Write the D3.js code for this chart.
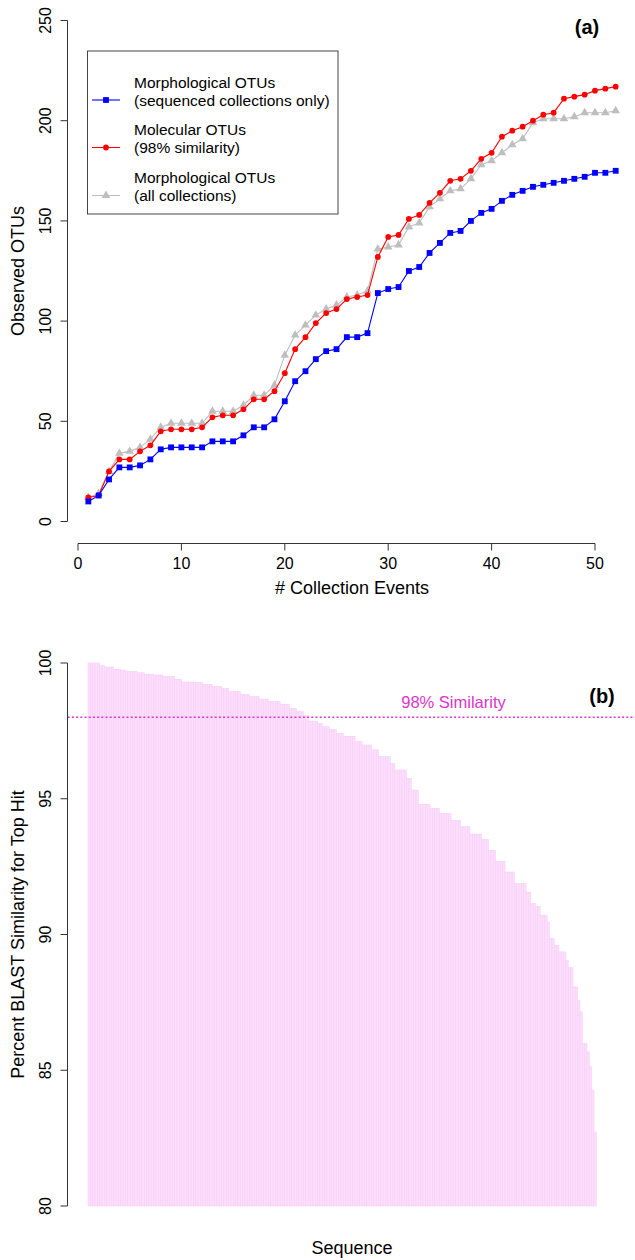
<!DOCTYPE html>
<head>
  <meta charset="utf-8">
  <script src="https://d3js.org/d3.v7.min.js"></script>
  <style>
    body { margin:0; background:white; }
    text { font-family: 'Liberation Sans', Arial, sans-serif; fill: #000; }
    .tick-label { font-size: 16px; }
    .axis-title { font-size: 18px; }
    .legend-text { font-size: 15.5px; }
    .panel-tag { font-size: 20px; font-weight: bold; }
  </style>
</head>
<body>
<script>
// ---- panel (a): accumulation of OTUs over collection events ----
const collectionEvents = [1,2,3,4,5,6,7,8,9,10,11,12,13,14,15,16,17,18,19,20,21,22,23,24,25,26,
  27,28,29,30,31,32,33,34,35,36,37,38,39,40,41,42,43,44,45,46,47,48,49,50,51,52];
const morphSeqOtus = [10,13,21,27,27,28,31,36,37,37, 37,37,40,40,40,43,47,47,51,60,
  70,75,81,85,86,92,92,94,114,116, 117,125,127,134,139,144,145,150,154,156,
  160,163,165,167,168,169,170,171,172,174, 174,175];
const molecularOtus = [12,13,25,31,31,35,38,45,46,46, 46,47,52,53,53,56,61,61,65,74,
  86,92,99,104,106,111,112,113,132,142, 143,151,153,159,164,170,171,175,181,184,
  192,195,197,200,203,204,211,212,213,215, 216,217];
const morphAllOtus = [12,14,25,34,35,37,41,47,49,49, 49,49,55,55,55,58,63,63,68,83,
  93,98,103,106,108,112,113,115,136,137, 138,147,149,157,161,165,166,171,178,180,
  184,188,191,199,201,201,201,202,204,204, 204,205];
const xTicksA = [0,10,20,30,40,50];
const yTicksA = [0,50,100,150,200,250];

// ---- panel (b): sorted BLAST similarity of each sequence ----
const blastSimilarity = [
  100,100,100,100,100, 99.9,99.9, 99.85,99.85,99.85,99.85, 99.77,99.77,99.77, 99.74,99.74,
  99.69,99.69,99.69,99.69,99.69, 99.64,99.64,99.64, 99.59,99.59,99.59,99.59,
  99.56,99.56,99.56,99.56, 99.5,99.5,99.5,99.5,99.5, 99.4,99.4,99.4,
  99.3,99.3,99.3,99.3,99.3, 99.28,99.28,99.28,99.28, 99.22,99.22,99.22,99.22,
  99.13,99.13,99.13,99.13, 99.07,99.07,99.07, 98.95,98.95,98.95,98.95,98.95,
  98.85,98.85,98.85,98.85, 98.76,98.76,98.76,98.76, 98.67,98.67,98.67,98.67,
  98.58,98.58,98.58,98.58,98.58, 98.48,98.48,98.48,98.48, 98.33,98.33,98.33,
  98.21,98.21,98.21, 98.06,98.06, 97.86,97.86,97.86,97.86, 97.77,97.77,
  97.65,97.65,97.65, 97.55,97.55,97.55, 97.4,97.4,97.4, 97.3,97.3,97.3,97.3,97.3,
  97.1,97.1,97.1, 96.98,96.98,96.98,96.98, 96.8,96.8,96.8, 96.55,96.55,96.55,96.55,96.55,
  96.3,96.3, 96.06,96.06,96.06,96.06,96.06, 95.75,95.75, 95.32,95.32,95.32,
  94.8,94.8,94.8,94.8,94.8, 94.65,94.65,94.65,94.65, 94.46,94.46,94.46,94.46,94.46,
  94.2,94.2,94.2,94.2, 93.97,93.97,93.97,93.97, 93.7,93.7,93.7,93.7,93.7,
  93.5,93.5,93.5, 93.1,93.1,93.1, 92.7,92.7,92.7,92.7, 92.3,92.3,92.3,92.3,
  91.87,91.87,91.87,91.87,91.87, 91.56,91.56, 91.14,91.14, 91.04,91.04,
  90.7,90.7,90.7, 90.46, 89.85,89.85, 89.6,89.6, 89.36,89.36,89.36, 89.05,
  88.78,88.78, 88.07,88.07, 87.58, 87.15, 85.98,85.98, 85.68, 85.13, 84.27, 82.73
];
const yTicksB = [80,85,90,95,100];
const similarityCutoff = 98;

const W = 635, H = 1260;
const svg = d3.select('body').append('svg')
  .attr('width', W).attr('height', H)
  .style('background', 'white');

const axisColor = '#333';

// ================= panel (a) =================
const xA = d3.scaleLinear().domain([0, 50]).range([78, 595]);
const yA = d3.scaleLinear().domain([0, 250]).range([521.5, 20.5]);
const axisXY = 543.5, axisYX = 67.5, tickLen = 7;

const gA = svg.append('g');

// y axis
gA.append('line').attr('x1', axisYX).attr('x2', axisYX)
  .attr('y1', yA(0)).attr('y2', yA(250))
  .attr('stroke', axisColor);
gA.selectAll('.ytick').data(yTicksA).enter().append('line')
  .attr('x1', axisYX - tickLen).attr('x2', axisYX)
  .attr('y1', d => yA(d)).attr('y2', d => yA(d))
  .attr('stroke', axisColor);
gA.selectAll('.ylab').data(yTicksA).enter().append('text')
  .classed('tick-label', true)
  .attr('transform', d => `translate(45, ${yA(d)}) rotate(-90)`)
  .attr('text-anchor', 'middle')
  .attr('dominant-baseline', 'central')
  .text(d => d);

// x axis
gA.append('line').attr('x1', xA(0)).attr('x2', xA(50))
  .attr('y1', axisXY).attr('y2', axisXY)
  .attr('stroke', axisColor);
gA.selectAll('.xtick').data(xTicksA).enter().append('line')
  .attr('x1', d => xA(d)).attr('x2', d => xA(d))
  .attr('y1', axisXY).attr('y2', axisXY + tickLen)
  .attr('stroke', axisColor);
gA.selectAll('.xlab').data(xTicksA).enter().append('text')
  .classed('tick-label', true)
  .attr('x', d => xA(d)).attr('y', 569)
  .attr('text-anchor', 'middle')
  .text(d => d);

gA.append('text').classed('axis-title', true)
  .attr('x', 352).attr('y', 594).attr('text-anchor', 'middle')
  .text('# Collection Events');
gA.append('text').classed('axis-title', true)
  .attr('transform', `translate(18, 271) rotate(-90)`)
  .attr('text-anchor', 'middle').attr('dominant-baseline', 'central')
  .text('Observed OTUs');

gA.append('text').classed('panel-tag', true)
  .attr('x', 587).attr('y', 34).attr('text-anchor', 'middle')
  .text('(a)');

// series: grey drawn first, blue last
const series = [
  { name: 'all', values: morphAllOtus, color: '#bebebe', shape: d3.symbolTriangle, size: 32 },
  { name: 'mol', values: molecularOtus, color: '#ff0000', shape: d3.symbolCircle, size: 26 },
  { name: 'seq', values: morphSeqOtus, color: '#0000ff', shape: d3.symbolSquare, size: 34 }
];

const line = d3.line().x(d => xA(d[0])).y(d => yA(d[1]));

series.forEach(s => {
  const pts = collectionEvents.map((e, i) => [e, s.values[i]]);
  gA.append('path').datum(pts)
    .attr('d', line).attr('fill', 'none')
    .attr('stroke', s.color).attr('stroke-width', 1.1);
  gA.append('g').selectAll('path').data(pts).enter().append('path')
    .attr('d', d3.symbol().type(s.shape).size(s.size))
    .attr('transform', d => `translate(${xA(d[0])}, ${yA(d[1])})`)
    .attr('fill', s.color);
});

// legend
const legend = gA.append('g');
legend.append('rect')
  .attr('x', 87.5).attr('y', 51).attr('width', 250.5).attr('height', 163)
  .attr('fill', 'white').attr('stroke', '#444').attr('stroke-width', 1);

const legendItems = [
  { lines: ['Morphological OTUs', '(sequenced collections only)'], color: '#0000ff', shape: d3.symbolSquare, size: 34, y: 82 },
  { lines: ['Molecular OTUs', '(98% similarity)'], color: '#ff0000', shape: d3.symbolCircle, size: 26, y: 129.5 },
  { lines: ['Morphological OTUs', '(all collections)'], color: '#bebebe', shape: d3.symbolTriangle, size: 32, y: 177.5 }
];
legendItems.forEach(item => {
  const symY = item.y + 18;
  legend.append('line').attr('x1', 92).attr('x2', 120)
    .attr('y1', symY).attr('y2', symY)
    .attr('stroke', item.color).attr('stroke-width', 1.1);
  legend.append('path')
    .attr('d', d3.symbol().type(item.shape).size(item.size))
    .attr('transform', `translate(106, ${symY})`)
    .attr('fill', item.color);
  item.lines.forEach((t, j) => {
    legend.append('text').classed('legend-text', true)
      .attr('x', 134).attr('y', item.y + j * 18)
      .attr('dominant-baseline', 'central')
      .text(t);
  });
});

// ================= panel (b) =================
const yB = d3.scaleLinear().domain([80, 100]).range([1206, 663]);
const xB = d3.scaleBand()
  .domain(blastSimilarity.map((d, i) => i))
  .range([88, 596])
  .paddingInner(0.2 / 1.2)
  .paddingOuter(0);

const gB = svg.append('g');

gB.append('g').selectAll('rect').data(blastSimilarity).enter().append('rect')
  .attr('x', (d, i) => xB(i))
  .attr('width', xB.bandwidth() + 0.4)
  .attr('y', d => yB(d))
  .attr('height', d => yB(80) - yB(d))
  .attr('fill', '#fcdefc')
  .attr('stroke', '#f5cdf5')
  .attr('stroke-width', 0.5);

// cutoff line
gB.append('line')
  .attr('x1', 67.7).attr('x2', 636)
  .attr('y1', yB(similarityCutoff)).attr('y2', yB(similarityCutoff))
  .attr('stroke', '#dd33cc').attr('stroke-width', 1.4)
  .attr('stroke-dasharray', '2,2.2');
gB.append('text')
  .attr('x', 453.5).attr('y', 707.5)
  .attr('text-anchor', 'middle')
  .style('font-size', '16.5px')
  .style('fill', '#dd33cc')
  .text('98% Similarity');

gB.append('text').classed('panel-tag', true)
  .attr('x', 602).attr('y', 703).attr('text-anchor', 'middle')
  .text('(b)');

// y axis
gB.append('line').attr('x1', axisYX).attr('x2', axisYX)
  .attr('y1', yB(80)).attr('y2', yB(100))
  .attr('stroke', axisColor);
gB.selectAll('.ytick').data(yTicksB).enter().append('line')
  .attr('x1', axisYX - tickLen).attr('x2', axisYX)
  .attr('y1', d => yB(d)).attr('y2', d => yB(d))
  .attr('stroke', axisColor);
gB.selectAll('.ylab').data(yTicksB).enter().append('text')
  .classed('tick-label', true)
  .attr('transform', d => `translate(45, ${yB(d)}) rotate(-90)`)
  .attr('text-anchor', 'middle')
  .attr('dominant-baseline', 'central')
  .text(d => d);

gB.append('text').classed('axis-title', true)
  .attr('transform', `translate(18, 934.5) rotate(-90)`)
  .attr('text-anchor', 'middle').attr('dominant-baseline', 'central')
  .text('Percent BLAST Similarity for Top Hit');
gB.append('text').classed('axis-title', true)
  .attr('x', 352).attr('y', 1254).attr('text-anchor', 'middle')
  .text('Sequence');
</script>
</body>
